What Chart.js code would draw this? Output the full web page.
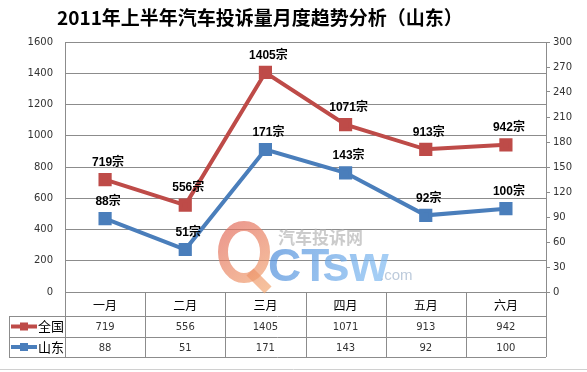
<!DOCTYPE html>
<html>
<head>
<meta charset="utf-8">
<script src="https://cdn.jsdelivr.net/npm/chart.js@4/dist/chart.umd.min.js"></script>
<style>
  html, body { margin: 0; padding: 0; background: #fff; }
  canvas { display: block; }
</style>
</head>
<body>
<canvas id="chart" width="587" height="372"></canvas>
<script>
var titleText = '2011年上半年汽车投诉量月度趋势分析（山东）';
var months = ['一月', '二月', '三月', '四月', '五月', '六月'];
var nationName = '全国';
var nationValues = [719, 556, 1405, 1071, 913, 942];
var shandongName = '山东';
var shandongValues = [88, 51, 171, 143, 92, 100];
var labelSuffix = '宗';

var redColor  = '#BE4B48';
var blueColor = '#4A7EBB';
var lineGrey  = '#8c8c8c';
var cjkFont   = "'Noto Sans CJK SC', sans-serif";
var numFont   = "'DejaVu Sans', sans-serif";

// title on top
var titlePlugin = {
    id: 'titleText',
    afterDraw: function (chart) {
        var ctx = chart.ctx;
        ctx.save();
        ctx.fillStyle = '#000';
        ctx.font = 'bold 19px ' + cjkFont;
        ctx.textAlign = 'left';
        ctx.textBaseline = 'middle';
        ctx.fillText(titleText, 57, 18);
        ctx.restore();
    }
};

// "719宗" style labels above each point
var pointLabels = {
    id: 'pointLabels',
    afterDatasetsDraw: function (chart) {
        var ctx = chart.ctx;
        ctx.save();
        ctx.fillStyle = '#000';
        ctx.font = "bold 12px 'Liberation Sans', " + cjkFont;
        ctx.textAlign = 'center';
        ctx.textBaseline = 'middle';
        chart.data.datasets.forEach(function (ds, di) {
            chart.getDatasetMeta(di).data.forEach(function (pt, i) {
                ctx.fillText(ds.data[i] + labelSuffix, pt.x + 3, pt.y - 17);
            });
        });
        ctx.restore();
    }
};

// data table under the plot, with legend keys
var dataTable = {
    id: 'dataTable',
    afterDraw: function (chart) {
        var ctx = chart.ctx;
        var area = chart.chartArea;
        var colW = (area.right - area.left) / months.length;
        var top = area.bottom, r1 = top + 24, r2 = r1 + 21, r3 = r2 + 20;
        var left = 9;
        ctx.save();
        ctx.strokeStyle = lineGrey;
        ctx.lineWidth = 1;
        ctx.beginPath();
        ctx.moveTo(area.left, top + 0.5); ctx.lineTo(area.right, top + 0.5);
        [r1, r2, r3].forEach(function (y) {
            ctx.moveTo(left, y + 0.5); ctx.lineTo(area.right, y + 0.5);
        });
        ctx.moveTo(left + 0.5, r1); ctx.lineTo(left + 0.5, r3);
        for (var k = 0; k <= months.length; k++) {
            var x = Math.round(area.left + k * colW) + 0.5;
            ctx.moveTo(x, top); ctx.lineTo(x, r3);
        }
        ctx.stroke();

        ctx.textAlign = 'center';
        ctx.textBaseline = 'middle';
        var xs = chart.scales.x;
        months.forEach(function (m, i) {
            var cx = xs.getPixelForValue(i);
            ctx.fillStyle = '#000';
            ctx.font = '12px ' + cjkFont;
            ctx.fillText(m, cx, (top + r1) / 2 + 1);
            ctx.fillStyle = '#333';
            ctx.font = '10px ' + numFont;
            ctx.fillText(String(nationValues[i]), cx, (r1 + r2) / 2 + 1);
            ctx.fillText(String(shandongValues[i]), cx, (r2 + r3) / 2 + 1);
        });

        [[nationName, redColor, (r1 + r2) / 2], [shandongName, blueColor, (r2 + r3) / 2]].forEach(function (row) {
            var y = row[2];
            ctx.strokeStyle = row[1];
            ctx.lineWidth = 4;
            ctx.beginPath();
            ctx.moveTo(11, y); ctx.lineTo(37, y);
            ctx.stroke();
            ctx.fillStyle = row[1];
            ctx.fillRect(20, y - 4, 8, 8);
            ctx.fillStyle = '#000';
            ctx.font = '13px ' + cjkFont;
            ctx.textAlign = 'left';
            ctx.fillText(row[0], 38, y);
        });

        // outer frame bottom edge
        ctx.strokeStyle = '#d0d0d0';
        ctx.lineWidth = 1;
        ctx.beginPath();
        ctx.moveTo(0, 369.5); ctx.lineTo(587, 369.5);
        ctx.stroke();
        ctx.restore();
    }
};

// faint site watermark over the plot
var watermark = {
    id: 'watermark',
    afterDraw: function (chart) {
        var ctx = chart.ctx;
        ctx.save();
        ctx.globalAlpha = 0.7;
        var g = ctx.createLinearGradient(215, 220, 270, 290);
        g.addColorStop(0, '#E0645A');
        g.addColorStop(1, '#F2A872');
        ctx.strokeStyle = g;
        ctx.lineWidth = 10;
        ctx.beginPath();
        ctx.ellipse(244, 252, 21, 26, 0, 0, Math.PI * 2);
        ctx.stroke();
        ctx.beginPath();
        ctx.moveTo(250, 272); ctx.lineTo(268, 290);
        ctx.stroke();
        var b = ctx.createLinearGradient(270, 240, 370, 285);
        b.addColorStop(0, '#4A8AD8');
        b.addColorStop(1, '#7DB8F0');
        ctx.fillStyle = b;
        ctx.textBaseline = 'alphabetic';
        ctx.textAlign = 'left';
        ctx.font = "bold 46px 'Liberation Sans', sans-serif";
        ctx.fillText('CT', 268, 281);
        ctx.font = "bold 50px 'Liberation Sans', sans-serif";
        ctx.fillText('sw', 322, 281);
        ctx.fillStyle = '#9fb4cc';
        ctx.font = "15px 'Liberation Sans', sans-serif";
        ctx.fillText('.com', 380, 280);
        ctx.fillStyle = '#b5b5b5';
        ctx.font = 'bold 17px ' + cjkFont;
        ctx.fillText('汽车投诉网', 278, 244);
        ctx.restore();
    }
};

new Chart(document.getElementById('chart'), {
    type: 'line',
    data: {
        labels: months,
        datasets: [
            {
                label: nationName,
                data: nationValues,
                yAxisID: 'y',
                borderColor: redColor,
                backgroundColor: redColor,
                pointBackgroundColor: redColor,
                pointBorderColor: redColor,
                borderWidth: 4,
                pointStyle: 'rect',
                pointRadius: 6.5,
                tension: 0
            },
            {
                label: shandongName,
                data: shandongValues,
                yAxisID: 'y1',
                borderColor: blueColor,
                backgroundColor: blueColor,
                pointBackgroundColor: blueColor,
                pointBorderColor: blueColor,
                borderWidth: 4,
                pointStyle: 'rect',
                pointRadius: 6.5,
                tension: 0
            }
        ]
    },
    options: {
        responsive: false,
        animation: false,
        layout: { padding: { left: 0, right: 0, top: 42, bottom: 80 } },
        plugins: {
            legend: { display: false },
            tooltip: { enabled: false },
            title: { display: false }
        },
        scales: {
            x: { display: false, offset: true },
            y: {
                position: 'left',
                min: 0, max: 1600,
                afterFit: function (s) { s.width = 65; },
                ticks: {
                    stepSize: 200, color: '#333', font: { size: 10, family: numFont }, padding: 12,
                    callback: function (v) { return String(v); }
                },
                grid: { color: lineGrey, drawTicks: false },
                border: { color: lineGrey }
            },
            y1: {
                position: 'right',
                min: 0, max: 300,
                afterFit: function (s) { s.width = 41; },
                ticks: {
                    stepSize: 30, color: '#333', font: { size: 10, family: numFont }, padding: 3,
                    callback: function (v) { return String(v); }
                },
                grid: { drawOnChartArea: false, color: lineGrey, tickLength: 4 },
                border: { color: lineGrey }
            }
        }
    },
    plugins: [titlePlugin, pointLabels, dataTable, watermark]
});
</script>
</body>
</html>
